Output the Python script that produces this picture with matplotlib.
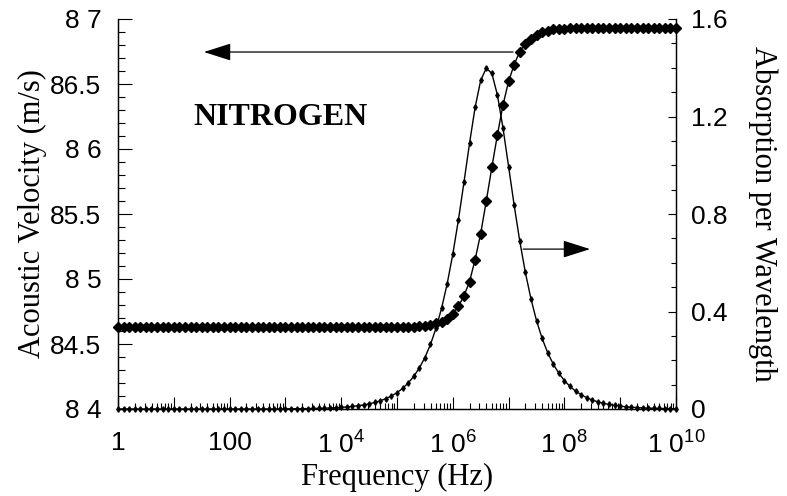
import numpy as np
import matplotlib
matplotlib.use("Agg")
import matplotlib.pyplot as plt
from matplotlib.ticker import FixedLocator, FixedFormatter, LogLocator, MultipleLocator, NullFormatter

plt.rcParams['mathtext.default'] = 'regular'

# log10 of frequency (Hz), 0.1-decade steps from 1 Hz to 1e10 Hz
log_freq = np.round(np.arange(101) * 0.1, 1)

velocity = ([84.63] * 50 +
            [84.63, 84.63, 84.63, 84.63, 84.64, 84.64, 84.65, 84.66, 84.67, 84.69,
             84.73, 84.79, 84.87, 84.98, 85.15, 85.35, 85.60, 85.86, 86.11, 86.34,
             86.52, 86.65, 86.75, 86.81, 86.85, 86.88, 86.90, 86.91, 86.92, 86.92,
             86.92] +
            [86.93] * 20)

absorption = ([0.0] * 30 +
              [0.0007, 0.0008, 0.0011, 0.0013, 0.0017, 0.0021, 0.0027, 0.0034, 0.0042, 0.0053,
               0.0067, 0.0085, 0.0106, 0.0134, 0.0169, 0.0212, 0.0267, 0.0336, 0.0424, 0.0533,
               0.0671, 0.0845, 0.1063, 0.1337, 0.1681, 0.2112, 0.2650, 0.3318, 0.4144, 0.5147,
               0.6352, 0.7749, 0.9302, 1.0903, 1.2378, 1.3482, 1.3985, 1.3766, 1.2878, 1.1521,
               0.9944, 0.8356, 0.6888, 0.5605, 0.4522, 0.3628, 0.2900, 0.2313, 0.1842, 0.1465,
               0.1165, 0.0927, 0.0736, 0.0585, 0.0465, 0.0369, 0.0293, 0.0233, 0.0185, 0.0147,
               0.0117, 0.0093, 0.0074, 0.0059, 0.0046, 0.0037, 0.0029, 0.0023, 0.0019, 0.0015,
               0.0012])

freq = 10.0 ** log_freq

x_tick_vals = [1e0, 1e1, 1e2, 1e3, 1e4, 1e5, 1e6, 1e7, 1e8, 1e9, 1e10]
x_tick_labels = ["1", "", "100", "", "1 0$^{4}$", "", "1 0$^{6}$", "", "1 0$^{8}$", "", "1 0$^{10}$"]
v_tick_vals = [84.0, 84.5, 85.0, 85.5, 86.0, 86.5, 87.0]
v_tick_labels = ["8 4", "84.5", "8 5", "85.5", "8 6", "86.5", "8 7"]
a_tick_vals = [0.0, 0.4, 0.8, 1.2, 1.6]
a_tick_labels = ["0", "0.4", "0.8", "1.2", "1.6"]

serif = "Liberation Serif"
sans = "Liberation Sans"

fig = plt.figure(figsize=(7.87, 4.96), dpi=100)
ax = fig.add_axes([118/787, 1 - 409/496, (676-118)/787, (409-19)/496])
ax2 = ax.twinx()

ax.set_xscale('log')
ax.set_xlim(1, 1e10)
ax.set_ylim(84, 87)
ax2.set_ylim(0, 1.6)

ax.plot(freq, velocity, color='k', lw=1.0, marker='D', ms=5.0, clip_on=False, zorder=3)
ax2.plot(freq, absorption, color='k', lw=1.0, marker='d', ms=2.8, clip_on=False, zorder=3)

for a in (ax, ax2):
    a.spines['top'].set_visible(False)
    for s in ('left', 'right', 'bottom'):
        a.spines[s].set_linewidth(0.9)

ax.xaxis.set_major_locator(FixedLocator(x_tick_vals))
ax.xaxis.set_major_formatter(FixedFormatter(x_tick_labels))
ax.xaxis.set_minor_locator(LogLocator(base=10, subs=np.arange(2, 10), numticks=30))
ax.xaxis.set_minor_formatter(NullFormatter())

ax.yaxis.set_major_locator(FixedLocator(v_tick_vals))
ax.yaxis.set_major_formatter(FixedFormatter(v_tick_labels))
ax.yaxis.set_minor_locator(MultipleLocator(0.1))

ax2.yaxis.set_major_locator(FixedLocator(a_tick_vals))
ax2.yaxis.set_major_formatter(FixedFormatter(a_tick_labels))
ax2.yaxis.set_minor_locator(MultipleLocator(0.1))

ax.tick_params(axis='x', which='major', direction='in', length=9, width=0.8, pad=16,
               labelsize=19, top=False)
ax.tick_params(axis='x', which='minor', direction='in', length=4.3, width=0.8, top=False)
ax.tick_params(axis='y', which='major', direction='in', length=10, width=0.8, pad=12,
               labelsize=19, right=False)
ax.tick_params(axis='y', which='minor', direction='in', length=5, width=0.8, right=False)
ax2.tick_params(axis='y', which='major', direction='in', length=6, width=0.8, pad=11,
                labelsize=19, left=False)
ax2.tick_params(axis='y', which='minor', direction='in', length=3.6, width=0.8, left=False)

for lab in ax.get_xticklabels() + ax.get_yticklabels() + ax2.get_yticklabels():
    lab.set_fontfamily(sans)

ax.set_xlabel("Frequency (Hz)", fontfamily=serif, fontsize=22, labelpad=3)
ax.set_ylabel("Acoustic Velocity (m/s)", fontfamily=serif, fontsize=22, labelpad=2)
ax2.set_ylabel("Absorption per Wavelength", fontfamily=serif, fontsize=22,
               rotation=270, labelpad=36)

ax.text(10**1.35, 86.24, "NITROGEN", fontfamily=serif, fontweight='bold', fontsize=23,
        ha='left', va='center')

arrow_style = dict(arrowstyle='-|>,head_length=0.85,head_width=0.27', mutation_scale=20,
                   color='k', lw=0.9, shrinkA=0, shrinkB=0)
ax.annotate("", xy=(10**1.54, 86.746), xytext=(10**7.08, 86.746), arrowprops=arrow_style)
ax.annotate("", xy=(10**8.46, 85.23), xytext=(10**7.26, 85.23), arrowprops=arrow_style)

fig.savefig("out.png", dpi=100)
